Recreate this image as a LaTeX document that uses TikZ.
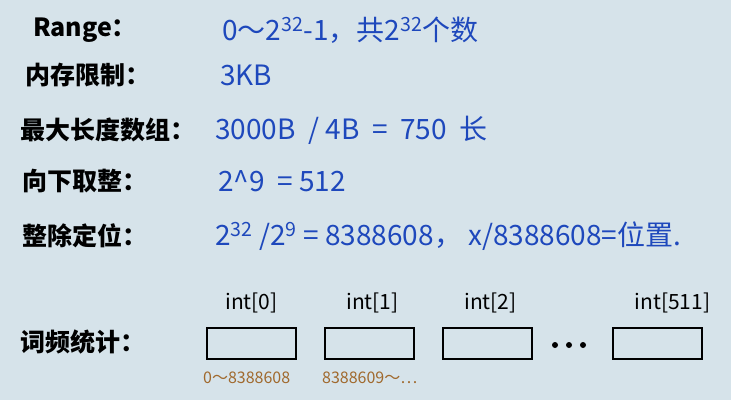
\documentclass[tikz,border=0pt]{standalone}
\usepackage{fontspec}
\setmainfont{Noto Sans CJK SC}
\usepackage{xcolor}
\usetikzlibrary{positioning}
\definecolor{cpaper}{RGB}{214,227,234}
\definecolor{cink}{RGB}{30,72,188}
\definecolor{cnote}{RGB}{160,105,45}

\begin{document}
\begin{tikzpicture}[
  x=1pt,y=-1pt,
  key/.style={anchor=west,inner sep=0pt,font=\fontsize{25}{27}\selectfont\bfseries},
  val/.style={anchor=west,inner sep=0pt,text=cink,font=\fontsize{28}{30}\selectfont},
  slot/.style={draw,line width=2pt,minimum width=89pt,minimum height=31pt,inner sep=0pt},
  idx/.style={inner sep=0pt,font=\fontsize{21}{23}\selectfont},
  rng/.style={anchor=west,inner sep=0pt,text=cnote,font=\fontsize{16}{18}\selectfont},
  dot/.style={circle,fill,inner sep=0pt,minimum size=6pt},
]
\fill[cpaper] (0,0) rectangle (731,400);
\useasboundingbox (0,0) rectangle (731,400);

% left column
\node[key] (krange) at (33,30) {Range：};
\node[key] (kmem) at (25,75) {内存限制：};
\node[key] (klen) at (20,130) {最大长度数组：};
\node[key] (kfloor) at (22,181) {向下取整：};
\node[key] (kdiv) at (22,236) {整除定位：};
\node[key] (kcount) at (20,342) {词频统计：};

% values
\node[val] (vrange) at (222,30) {0～2\textsuperscript{32}-1，共2\textsuperscript{32}个数};
\node[val] (vmem) at (220,75) {3KB};
\node[val] (vlen) at (215,130) {3000B \ / 4B \ = \ 750 \ 长};
\node[val] (vfloor) at (218,181) {2\textasciicircum 9 \ = 512};
\node[val] (vdiv) at (215,236) {2\textsuperscript{32} /2\textsuperscript{9} = 8388608，\ x/8388608=位置.};

% counter array
\node[slot] (c0) at (251.5,343.5) {};
\node[slot,right=27pt of c0] (c1) {};
\node[slot,right=27pt of c1] (c2) {};
\node[slot] (c3) at (657.5,343.5) {};
\foreach \x/\n in {555/d1,569/d2,583/d3}
  \node[dot] (\n) at (\x,345) {};

\node[idx,above=14pt of c0] (i0) {int[0]};
\node[idx,above=14pt of c1,xshift=3pt] (i1) {int[1]};
\node[idx,above=14pt of c2,xshift=3pt] (i2) {int[2]};
\node[idx,above=14pt of c3,xshift=15pt] (i3) {int[511]};

\node[rng] (r0) at (203,378) {0～8388608};
\node[rng] (r1) at (322,378) {8388609～…};
\end{tikzpicture}
\end{document}
